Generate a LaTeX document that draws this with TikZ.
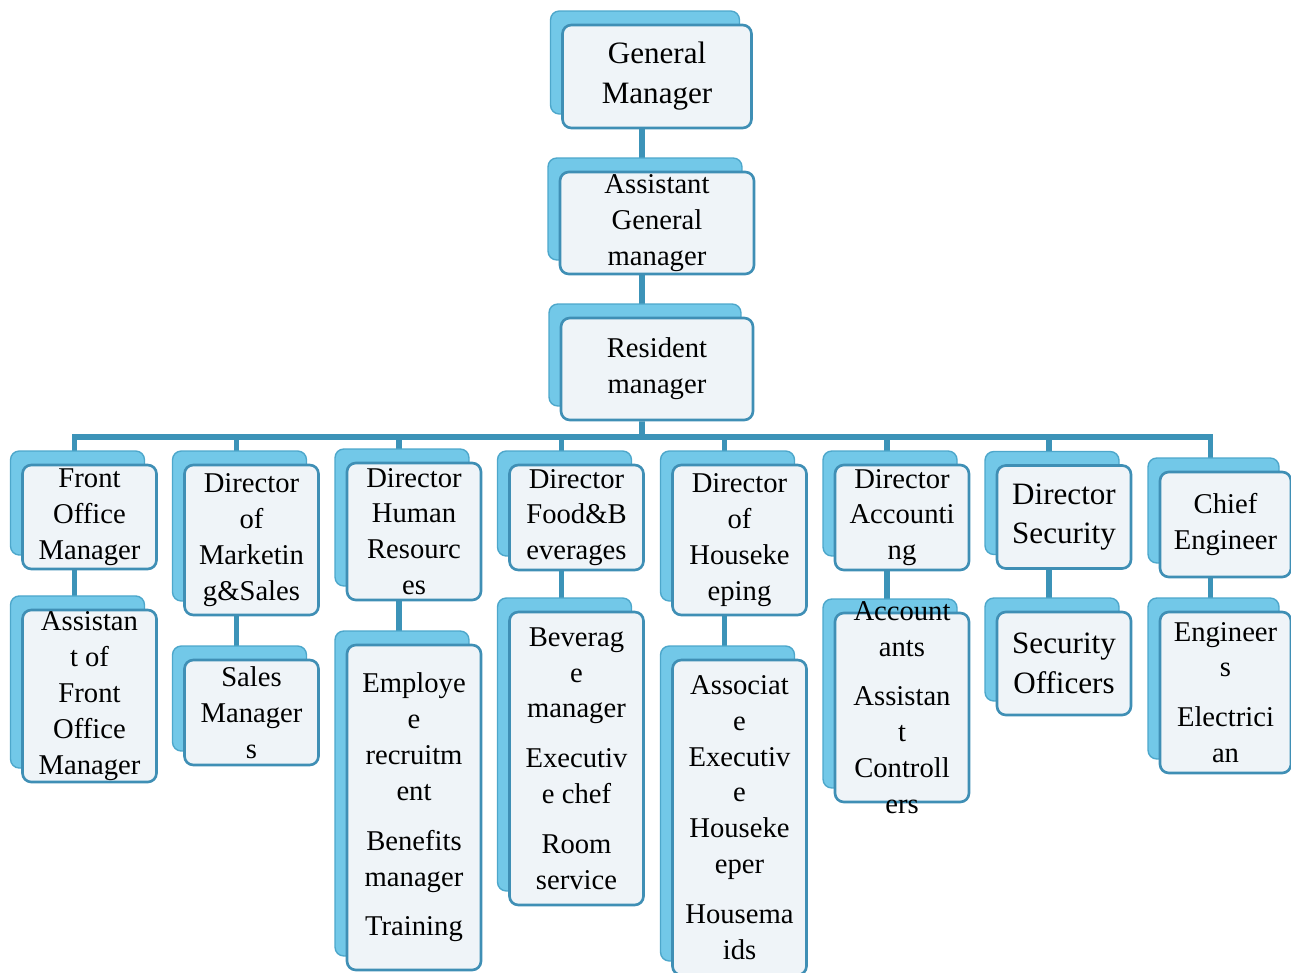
\documentclass[tikz,border=0pt]{standalone}
\usepackage{fontspec}
\setmainfont{Liberation Serif}
\usetikzlibrary{shadows,backgrounds}

\definecolor{linkblue}{HTML}{3C93B8}
\definecolor{edgeblue}{HTML}{3F8FB5}
\definecolor{boxfill}{HTML}{EFF4F8}
\definecolor{shadeblue}{HTML}{72C8E8}
\definecolor{shadeedge}{HTML}{4DA7CB}

\tikzset{
  orgbox/.style={draw=edgeblue, line width=1.5pt, fill=boxfill, rounded corners=5pt,
    align=center, inner sep=1pt, minimum width=2.68cm,
    font=\fontsize{16.3}{20.4}\selectfont,
    general shadow={fill=shadeblue, draw=shadeedge, line width=0.8pt,
      shadow xshift=-0.24cm, shadow yshift=0.28cm}},
  bigbox/.style={orgbox, font=\fontsize{17.7}{22.7}\selectfont},
  boxtext/.style={align=center, inner sep=0pt, font=\fontsize{16.3}{20.4}\selectfont},
  link/.style={draw=linkblue, line width=3.3pt},
}

\begin{document}
\begin{tikzpicture}[x=0.02cm, y=-0.02cm]
                \useasboundingbox (0,0) rectangle (1291,973);

                % top of the chart
                \node[bigbox, minimum width=3.78cm, minimum height=2.06cm] (gm) at (657,76.5) {General\\Manager};
                \node[orgbox, minimum width=3.88cm, minimum height=2.04cm] (agm) at (657,223) {Assistant\\General\\manager};
                \node[orgbox, minimum width=3.84cm, minimum height=2.04cm] (rm) at (657,369) {Resident\\manager};
                \coordinate (bus) at (642,437);

                % directors
                \node[orgbox, minimum height=2.08cm] (fo) at (89.5,517) {Front\\Office\\Manager};
                \node[orgbox, minimum height=3.0cm] (dm) at (251.5,540) {Director\\of\\Marketin\\g\&Sales};
                \node[orgbox, minimum height=2.74cm] (dh) at (414,531.5) {Director\\Human\\Resourc\\es};
                \node[orgbox, minimum height=2.1cm] (df) at (576.5,517.5) {Director\\Food\&B\\everages};
                \node[orgbox, minimum height=3.0cm] (dk) at (739.5,540) {Director\\of\\Houseke\\eping};
                \node[orgbox, minimum height=2.1cm] (da) at (902,517.5) {Director\\Accounti\\ng};
                \node[bigbox, minimum height=2.06cm] (ds) at (1064,517) {Director\\Security};
                \node[orgbox, minimum width=2.62cm, minimum height=2.1cm] (ce) at (1225.5,524.5) {Chief\\Engineer};

                % staff
                \node[orgbox, minimum height=3.36cm] (af) at (89.5,696) {Assistan\\t of\\Front\\Office\\Manager};
                \node[orgbox, minimum height=2.1cm] (sm) at (251.5,712.5) {Sales\\Manager\\s};
                \node[orgbox, minimum height=6.5cm] (hr) at (414,807.5) {Employe\\e\\recruitm\\ent\\[8pt]Benefits\\manager\\[8pt]Training};
                \node[orgbox, minimum height=5.86cm] (fb) at (576.5,758.5) {Beverag\\e\\manager\\[8pt]Executiv\\e chef\\[8pt]Room\\service};
                \node[orgbox, minimum height=6.3cm] (hk) at (739.5,817.5) {Associat\\e\\Executiv\\e\\Houseke\\eper\\[8pt]Housema\\ids};
                \node[orgbox, minimum height=3.78cm] (ac) at (902,707.5) {};
                \node[boxtext] (actext) at (ac) {Account\\ants\\[8pt]Assistan\\t\\Controll\\ers};
                \node[bigbox, minimum height=2.06cm] (so) at (1064,663.5) {Security\\Officers};
                \node[orgbox, minimum width=2.62cm, minimum height=3.22cm] (en) at (1225.5,692.5) {Engineer\\s\\[8pt]Electrici\\an};

                % connectors
                \begin{pgfonlayer}{background}
                \foreach \a/\b in {gm/agm, agm/rm, fo/af, dm/sm, dh/hr, df/fb, dk/hk, da/ac, ds/so, ce/en}
                    \draw[link] ([xshift=-0.3cm]\a.south) -- ([xshift=-0.3cm]\b.north);
                \draw[link] ([xshift=-0.3cm]rm.south) -- (bus);
                \foreach \c in {fo, dm, dh, df, dk, da, ds, ce}
                    \draw[link] ([xshift=-0.3cm]\c.north) |- (bus);
                \end{pgfonlayer}
            \end{tikzpicture}
\end{document}
